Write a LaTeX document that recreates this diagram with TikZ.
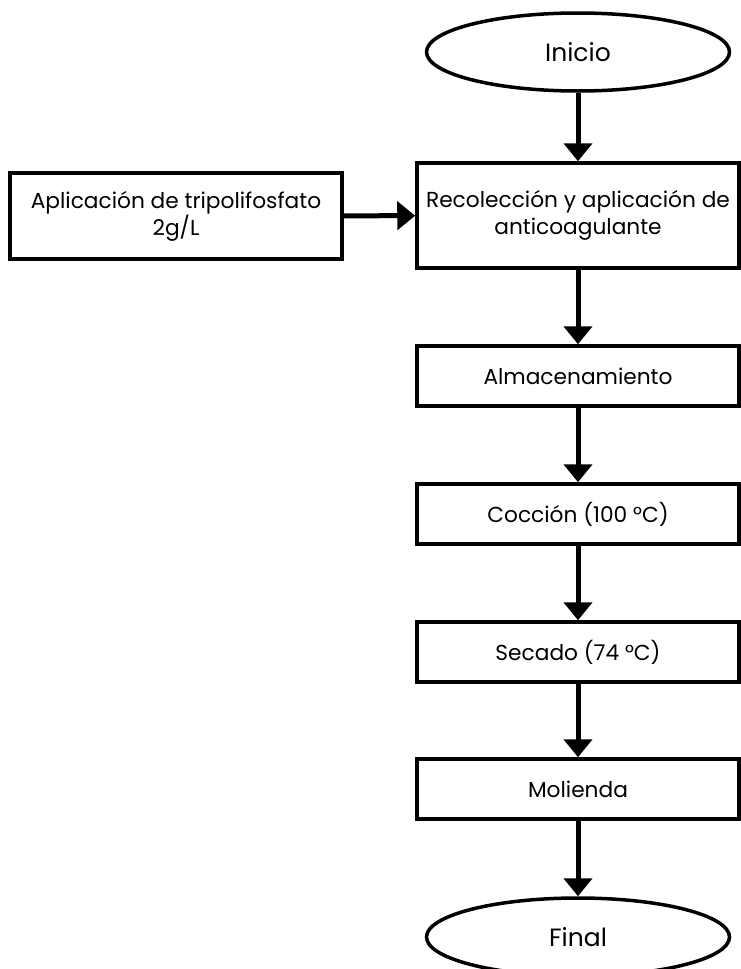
\documentclass[tikz,border=0pt]{standalone}
\usepackage{fontspec}
\setmainfont{Poppins}
\usetikzlibrary{shapes.geometric,arrows.meta}

\tikzset{
  caja/.style={draw,line width=3.5pt,minimum width=322pt,minimum height=60pt,align=center,inner sep=0pt},
  elipse/.style={draw,ellipse,line width=3.5pt,minimum width=303pt,minimum height=78pt,inner sep=0pt,font=\fontsize{25}{30}\selectfont},
  flecha/.style={-{Triangle[width=28pt,length=18pt]},line width=5pt}
}

\begin{document}
\begin{tikzpicture}[x=1pt,y=-1pt,font=\fontsize{21.7}{27}\selectfont]
\useasboundingbox (0,0) rectangle (740,969);
\node[elipse] (inicio) at (578,52) {Inicio};
\node[caja,minimum height=105pt] (recol) at (578,215.5) {Recolección y aplicación de\\
anticoagulante};
\node[caja,minimum width=332pt,minimum height=86pt] (trip) at (176,216) {Aplicación de tripolifosfato\\
2g/L};
\node[caja] (alm) at (578,376) {Almacenamiento};
\node[caja] (coc) at (578,514) {Cocción (100 °C)};
\node[caja] (sec) at (578,652) {Secado (74 °C)};
\node[caja] (mol) at (578,789) {Molienda};
\node[elipse] (fin) at (578,937) {Final};
\draw[flecha] (inicio) -- (recol);
\draw[flecha] (trip) -- (recol);
\draw[flecha] (recol) -- (alm);
\draw[flecha] (alm) -- (coc);
\draw[flecha] (coc) -- (sec);
\draw[flecha] (sec) -- (mol);
\draw[flecha] (mol) -- (fin);
\end{tikzpicture}
\end{document}
